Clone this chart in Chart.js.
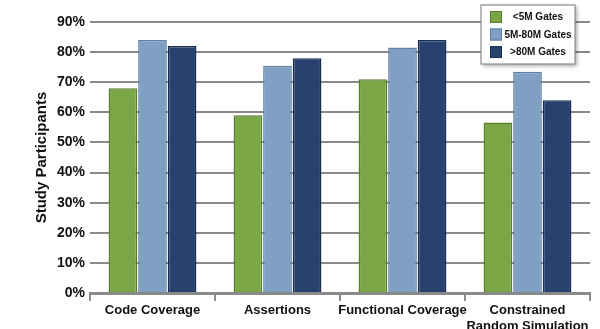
<!DOCTYPE html>
<html>
<head>
<meta charset="utf-8">
<script src="https://cdn.jsdelivr.net/npm/chart.js@4.4.0/dist/chart.umd.min.js"></script>
<style>
  html, body { margin: 0; padding: 0; background: #fff; }
  #chart { display: block; }
</style>
</head>
<body>
<canvas id="chart" width="600" height="329"></canvas>
<script>
// Verification techniques by design size
const categories = ['Code Coverage', 'Assertions', 'Functional Coverage', ['Constrained', 'Random Simulation']];
const seriesNames = ['<5M Gates', '5M-80M Gates', '>80M Gates'];
const small = [68, 59, 71, 56.6];
const medium = [84, 75.5, 81.5, 73.5];
const large = [82, 78, 84, 64];
const yTicks = [0, 10, 20, 30, 40, 50, 60, 70, 80, 90];

const fills = ['#7ba646', '#7f9fc3', '#27426f'];
const edges = ['#577d2e', '#5f7ea3', '#1a2e52'];

const FONT = 'Arial, "Liberation Sans", sans-serif';

// legend box floating in the top-right corner of the plot
const boxLegend = {
  id: 'boxLegend',
  afterDraw(chart) {
    const ctx = chart.ctx;
    const x = 481, y = 5, w = 94, h = 59;
    ctx.save();
    ctx.shadowColor = 'rgba(0,0,0,0.35)';
    ctx.shadowBlur = 4;
    ctx.shadowOffsetX = 2;
    ctx.shadowOffsetY = 2;
    ctx.fillStyle = '#fff';
    ctx.fillRect(x, y, w, h);
    ctx.restore();
    ctx.save();
    ctx.strokeStyle = '#8c8c8c';
    ctx.lineWidth = 1.2;
    ctx.strokeRect(x, y, w, h);
    ctx.font = 'bold 10px ' + FONT;
    ctx.textAlign = 'center';
    ctx.textBaseline = 'middle';
    chart.data.datasets.forEach((ds, i) => {
      const cy = 17 + i * 17.5;
      ctx.fillStyle = ds.backgroundColor;
      ctx.fillRect(490, cy - 6, 12, 12);
      ctx.strokeStyle = ds.borderColor;
      ctx.lineWidth = 1;
      ctx.strokeRect(490.5, cy - 5.5, 11, 11);
      ctx.fillStyle = '#111';
      ctx.fillText(ds.label, 538, cy + 0.5);
    });
    ctx.restore();
  }
};

const datasets = [small, medium, large].map((values, i) => ({
  label: seriesNames[i],
  data: values,
  backgroundColor: fills[i],
  borderColor: edges[i],
  borderWidth: 1.5,
  barPercentage: 0.97,
  categoryPercentage: 0.71
}));

new Chart(document.getElementById('chart'), {
  type: 'bar',
  data: { labels: categories, datasets: datasets },
  options: {
    responsive: false,
    animation: false,
    layout: { padding: { left: 0, right: 10, top: 22, bottom: 0 } },
    plugins: {
      legend: { display: false },
      tooltip: { enabled: false }
    },
    scales: {
      x: {
        grid: {
          offset: true,
          drawOnChartArea: false,
          drawTicks: true,
          tickLength: 8,
          color: '#8a8a8a',
          lineWidth: 2
        },
        border: { color: '#8a8a8a', width: 3 },
        ticks: {
          color: '#111',
          font: { family: FONT, size: 13, weight: 'bold' },
          padding: 2,
          maxRotation: 0,
          autoSkip: false
        },
        afterFit(scale) { scale.height = 36; }
      },
      y: {
        min: 0,
        max: 90,
        afterBuildTicks(scale) { scale.ticks = yTicks.map(v => ({ value: v })); },
        grid: { color: '#8a8a8a', lineWidth: 2, drawTicks: false },
        border: { display: false },
        ticks: {
          color: '#111',
          padding: 5,
          font: { family: FONT, size: 14, weight: 'bold' },
          callback: v => v + '%'
        },
        title: {
          display: true,
          text: 'Study Participants',
          color: '#111',
          font: { family: FONT, size: 15, weight: 'bold' },
          padding: { top: 33, bottom: 4 }
        },
        afterFit(scale) { scale.width = 90; }
      }
    }
  },
  plugins: [boxLegend]
});
</script>
</body>
</html>
